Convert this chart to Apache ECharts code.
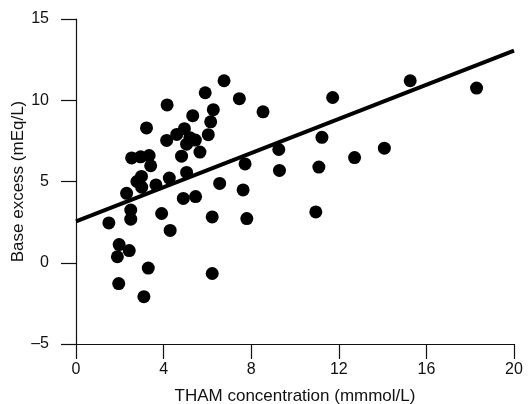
<!DOCTYPE html>
<html>
<head>
<meta charset="utf-8">
<script src="https://cdn.jsdelivr.net/npm/echarts@6/dist/echarts.min.js"></script>
<style>html,body{margin:0;padding:0;background:#fff}#c{width:528px;height:404px}</style>
</head>
<body>
<div id="c"></div>
<script>
// THAM concentration (mmol/L) values
var thamX = [
  1.50, 1.97, 1.89, 1.95, 2.43, 2.50, 2.50, 3.30, 3.10, 3.91, 4.30,
  2.31, 2.54, 2.95, 3.34, 3.41, 2.99, 2.78, 3.00, 3.65, 4.26, 3.22,
  4.16, 5.33, 6.27, 6.15, 4.14, 6.04, 4.82, 5.66, 5.05, 4.60, 4.95, 5.20, 5.05, 5.45, 5.90, 6.76, 7.46,
  4.90, 5.46, 6.22, 6.22, 6.56, 7.72, 7.63, 7.80,
  8.54, 9.26, 9.29, 10.95, 11.09, 11.23, 11.72, 12.72, 14.08, 15.26, 18.29
];
// Base excess (mEq/L) values
var baseExcess = [
  2.45, 1.12, 0.37, -1.28, 0.75, 3.24, 2.68, -0.33, -2.09, 3.03, 1.99,
  4.27, 6.45, 6.52, 6.60, 5.97, 5.31, 5.00, 4.65, 4.79, 5.21, 8.30,
  9.71, 9.05, 9.42, 8.67, 7.53, 7.88, 6.56, 6.81, 5.56, 7.90, 8.25, 7.70, 7.30, 7.55, 10.46, 11.20, 10.10,
  3.96, 4.07, 2.82, -0.66, 4.88, 6.08, 4.48, 2.72,
  9.29, 6.97, 5.68, 3.13, 5.89, 7.72, 10.17, 6.47, 7.05, 11.20, 10.75
];
// Regression line end points
var fitX = [0, 20];
var fitY = [2.55, 13.05];
// Axis ticks
var xTicks = [0, 4, 8, 12, 16, 20];
var yTicks = [-5, 0, 5, 10, 15];

var points = thamX.map(function (x, i) { return [x, baseExcess[i]]; });
var fitLine = fitX.map(function (x, i) { return [x, fitY[i]]; });

var font = 'Liberation Sans, Arial, sans-serif';
var chart = echarts.init(document.getElementById('c'), null, { renderer: 'canvas' });
chart.setOption({
  animation: false,
  backgroundColor: '#fff',
  grid: { left: 76, right: 14, top: 19, bottom: 60, containLabel: false, outerBoundsMode: 'none' },
  xAxis: {
    type: 'value',
    min: xTicks[0], max: xTicks[xTicks.length - 1], interval: xTicks[1] - xTicks[0],
    name: 'THAM concentration (mmmol/L)',
    nameLocation: 'middle', nameGap: 44, nameMoveOverlap: false,
    nameTextStyle: { fontFamily: font, fontSize: 17, color: '#111' },
    axisLine: { show: true, onZero: false, lineStyle: { color: '#111', width: 1.2 } },
    axisTick: { show: true, inside: false, length: 15, lineStyle: { color: '#111', width: 1.2 } },
    axisLabel: { fontFamily: font, fontSize: 16, color: '#111', margin: 18 },
    splitLine: { show: false }
  },
  yAxis: {
    type: 'value',
    min: yTicks[0], max: yTicks[yTicks.length - 1], interval: yTicks[1] - yTicks[0],
    name: 'Base excess (mEq/L)',
    nameLocation: 'middle', nameGap: 49, nameMoveOverlap: false,
    nameTextStyle: { fontFamily: font, fontSize: 17, color: '#111' },
    axisLine: { show: true, onZero: false, lineStyle: { color: '#111', width: 1.2 } },
    axisTick: { show: true, inside: false, length: 15, lineStyle: { color: '#111', width: 1.2 } },
    axisLabel: {
      fontFamily: font, fontSize: 16, color: '#111', margin: 27,
      formatter: function (v) { return String(v).replace('-', '\u2013'); }
    },
    splitLine: { show: false }
  },
  series: [
    {
      type: 'scatter',
      data: points,
      symbol: 'circle',
      symbolSize: 13,
      itemStyle: { color: '#000', opacity: 1 },
      z: 2
    },
    {
      type: 'line',
      data: fitLine,
      symbol: 'none',
      lineStyle: { color: '#000', width: 4 },
      z: 3
    }
  ]
});
</script>
</body>
</html>
